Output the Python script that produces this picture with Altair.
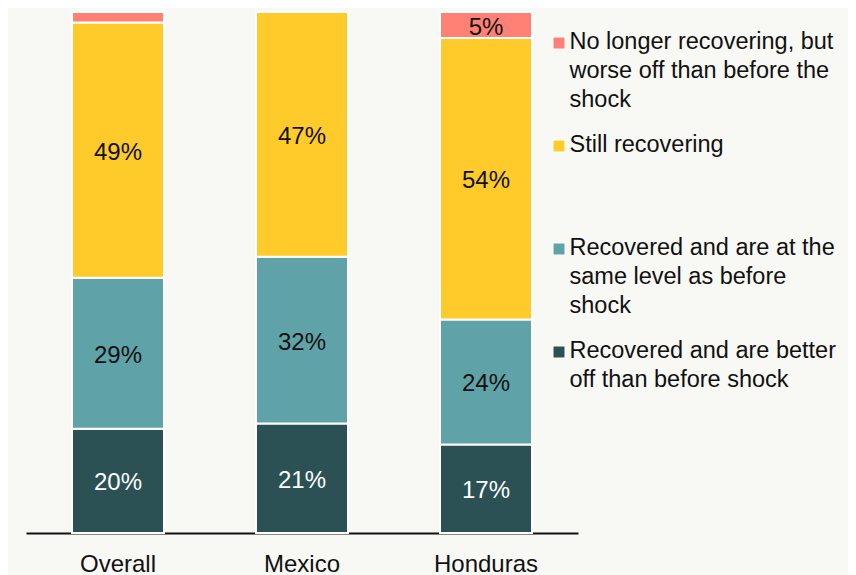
import altair as alt
import pandas as pd

# ---- data ----
countries = ["Overall", "Mexico", "Honduras"]
statuses = [
    "No longer recovering, but worse off than before the shock",
    "Still recovering",
    "Recovered and are at the same level as before shock",
    "Recovered and are better off than before shock",
]
legend_lines = [
    ["No longer recovering, but", "worse off than before the", "shock"],
    ["Still recovering"],
    ["Recovered and are at the", "same level as before", "shock"],
    ["Recovered and are better", "off than before shock"],
]
colors = ["#FF8075", "#FFCB2B", "#5FA3A8", "#2C5155"]

better = [20, 21, 17]
same = [29, 32, 24]
still = [49, 47, 54]
worse = [2, 0, 5]

# stack order bottom -> top
series = [
    (statuses[3], better),
    (statuses[2], same),
    (statuses[1], still),
    (statuses[0], worse),
]
rows = []
for ci, c in enumerate(countries):
    for oi, (s, vals) in enumerate(series):
        v = vals[ci]
        rows.append({
            "country": c,
            "status": s,
            "order": oi,
            "value": v,
            "label": f"{v}%" if v >= 3 else "",
        })
df = pd.DataFrame(rows)

legend_df = pd.DataFrame({
    "status": statuses,
    "idx": list(range(len(statuses))),
    "text": ["\n".join(lines) for lines in legend_lines],
})

FONT = "Liberation Sans"
INK = "#111111"

color_scale = alt.Scale(domain=statuses, range=colors)
yscale = alt.Scale(domain=[0, 100], nice=False, zero=True)

base = alt.Chart(df).transform_stack(
    stack="value",
    groupby=["country"],
    sort=[alt.SortField("order", "ascending")],
    as_=["v0", "v1"],
).transform_calculate(mid="(datum.v0 + datum.v1) / 2")

x = alt.X(
    "country:N",
    sort=countries,
    title=None,
    scale=alt.Scale(paddingInner=0.5, paddingOuter=0.25),
    axis=alt.Axis(
        labelAngle=0,
        ticks=False,
        labelPadding=19,
        domainColor=INK,
        domainWidth=2,
        labelFontSize=24,
        labelColor=INK,
        labelFont=FONT,
    ),
)

bars = base.mark_bar(stroke="white", strokeWidth=2).encode(
    x=x,
    y=alt.Y("v0:Q", scale=yscale, axis=None),
    y2="v1:Q",
    color=alt.Color("status:N", scale=color_scale, legend=None),
)

labels = base.mark_text(font=FONT, fontSize=24, baseline="middle", dy=2.5).encode(
    x=x,
    y=alt.Y("mid:Q", scale=yscale, axis=None),
    text="label:N",
    fill=alt.condition(alt.datum.order == 0, alt.value("white"), alt.value(INK)),
)

# ---- legend (drawn as marks, one row per category) ----
leg_y = alt.Y(
    "idx:O",
    axis=None,
    scale=alt.Scale(type="point", padding=0, range=[31, 340]),
)
leg_sq = alt.Chart(legend_df).mark_square(size=144, stroke="white", strokeWidth=1, opacity=1).encode(
    x=alt.value(533),
    y=leg_y,
    color=alt.Color("status:N", scale=color_scale, legend=None),
)
leg_txt = alt.Chart(legend_df).mark_text(
    font=FONT,
    fontSize=23.5,
    align="left",
    baseline="top",
    lineBreak="\n",
    lineHeight=29,
    dy=-13,
    color=INK,
).encode(
    x=alt.value(543.5),
    y=leg_y,
    text="text:N",
)

chart = (
    alt.layer(bars, labels, leg_sq, leg_txt)
    .resolve_scale(y="independent")
    .properties(
        width=552,
        height=521,
        autosize=alt.AutoSizeParams(type="none"),
        padding={"left": 18, "top": 4, "right": 270, "bottom": 45},
        background="#F8F8F4",
    )
    .configure_view(stroke=None)
)

chart.save("out.html", embed_options={"renderer": "svg", "actions": False})
